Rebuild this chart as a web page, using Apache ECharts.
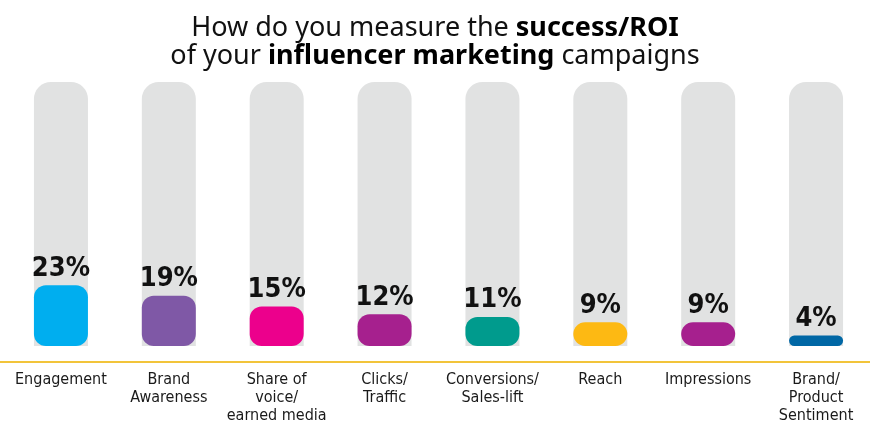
<!DOCTYPE html>
<html>
<head>
<meta charset="utf-8">
<script src="https://cdn.jsdelivr.net/npm/echarts@6/dist/echarts.min.js"></script>
<style>html,body{margin:0;padding:0;background:#fff}#c{width:870px;height:431px}</style>
</head>
<body>
<div id="c"></div>
<script>
const categories = ['Engagement', 'Brand\nAwareness', 'Share of\nvoice/\nearned media', 'Clicks/\nTraffic', 'Conversions/\nSales-lift', 'Reach', 'Impressions', 'Brand/\nProduct\nSentiment'];
const values = [23, 19, 15, 12, 11, 9, 9, 4];
const colors = ['#00AEEF', '#7F58A6', '#EC008C', '#A6208E', '#009B8D', '#FDB913', '#A6208E', '#0067A5'];

const condensed = "'DejaVu Sans Condensed', 'Liberation Sans Narrow', 'Roboto', sans-serif";
const chart = echarts.init(document.getElementById('c'));
chart.setOption({
  backgroundColor: '#ffffff',
  title: {
    left: 'center',
    top: 9,
    text: '{n|How do you measure the }{b|success/ROI}\n{n|of your }{b|influencer marketing}{n| campaigns}',
    textStyle: {
      rich: {
        n: { fontFamily: 'Noto Sans', fontSize: 27, fontWeight: 'normal', color: '#111', lineHeight: 28 },
        b: { fontFamily: 'Noto Sans', fontSize: 27, fontWeight: 'bold', color: '#000', lineHeight: 28 }
      }
    }
  },
  grid: { left: 7, width: 866, top: 82, bottom: 85, containLabel: false },
  xAxis: {
    type: 'category',
    data: categories,
    offset: 16,
    axisLine: { show: false },
    axisTick: { show: false },
    axisLabel: {
      interval: 0,
      margin: 9,
      fontFamily: condensed,
      fontSize: 16,
      lineHeight: 18,
      color: '#1a1a1a'
    }
  },
  yAxis: { type: 'value', min: 0, max: 100, show: false, splitLine: { show: false } },
  graphic: [{
    type: 'line',
    shape: { x1: 0, y1: 362, x2: 870, y2: 362 },
    style: { stroke: '#F2C43A', lineWidth: 2 },
    silent: true
  }],
  series: [{
    type: 'bar',
    barWidth: 54,
    data: values.map((v, i) => ({ value: v, itemStyle: { color: colors[i] } })),
    itemStyle: { borderRadius: 12 },
    showBackground: true,
    backgroundStyle: { color: '#E1E2E2', borderRadius: [17, 17, 0, 0] },
    label: {
      show: true,
      position: 'top',
      distance: 3,
      formatter: '{c}%',
      fontFamily: condensed,
      fontWeight: 'bold',
      fontSize: 27,
      color: '#111'
    },
    animation: false
  }],
  animation: false
});
</script>
</body>
</html>
